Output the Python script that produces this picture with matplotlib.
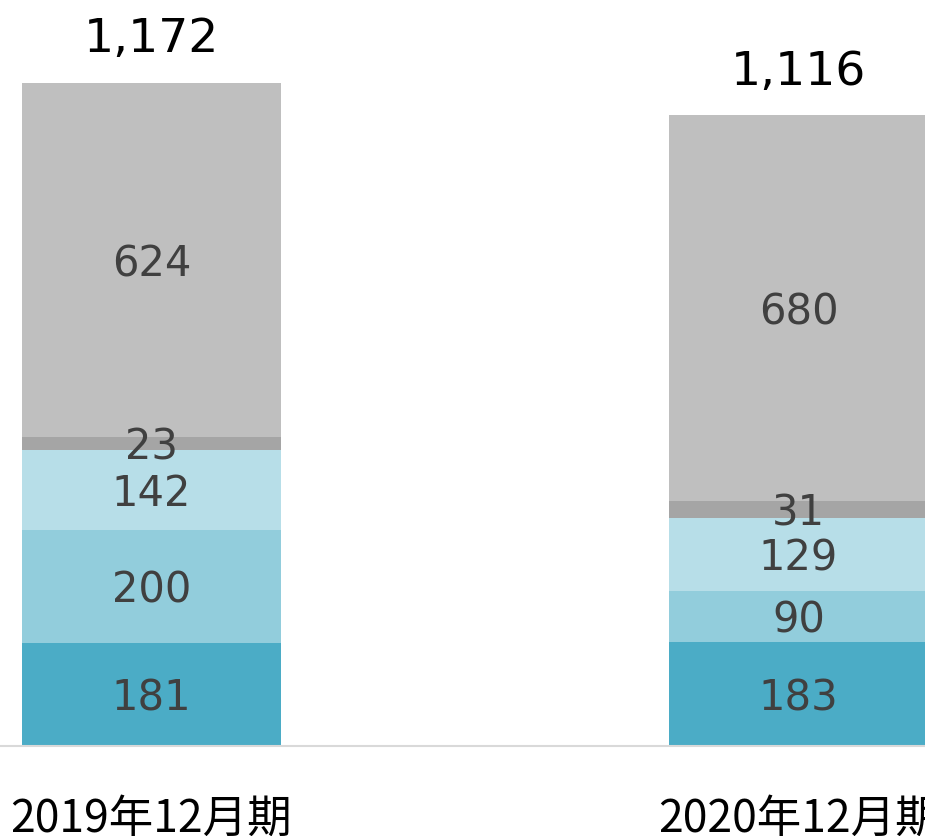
import matplotlib
matplotlib.use("Agg")
import matplotlib.pyplot as plt
import numpy as np

plt.rcParams["font.family"] = ["DejaVu Sans"]

categories = ["2019年12月期", "2020年12月期"]
seg1 = [181, 183]
seg2 = [200, 90]
seg3 = [142, 129]
seg4 = [23, 31]
seg5 = [624, 680]
totals = [1172, 1116]

series = [seg1, seg2, seg3, seg4, seg5]
colors = ["#4BACC6", "#92CDDC", "#B7DEE8", "#A5A5A5", "#BFBFBF"]

fig = plt.figure(figsize=(9.25, 8.36), dpi=100)
ax = fig.add_axes([0, 90 / 836, 1, 746 / 836])

x = np.arange(len(categories))
bottom = np.zeros(len(categories))
for vals, col in zip(series, colors):
    vals = np.array(vals, dtype=float)
    ax.bar(x, vals, width=0.4, bottom=bottom, color=col, linewidth=0, zorder=2)
    for xi, b, v in zip(x, bottom, vals):
        ax.annotate(f"{int(v):,}", (xi, b + v / 2), xytext=(0, -3), textcoords="offset points",
                    ha="center", va="center", fontsize=30, color="#404040",
                    fontfamily=["DejaVu Sans"], zorder=3)
    bottom += vals

for xi, top, t in zip(x, bottom, totals):
    ax.annotate(f"{t:,}", (xi, top), xytext=(0, 15), textcoords="offset points",
                ha="center", va="bottom", fontsize=34, color="black", fontfamily=["DejaVu Sans"])

ax.set_xlim(-0.234, 1.1955)
ax.set_ylim(0, 1316.6)
ax.set_yticks([])
ax.set_xticks(x)
ax.set_xticklabels(categories, fontfamily=["Noto Sans CJK JP", "DejaVu Sans"], fontsize=32, color="black")
ax.tick_params(axis="x", length=0, pad=36)
for s in ["top", "right", "left"]:
    ax.spines[s].set_visible(False)
ax.spines["bottom"].set_color("#D9D9D9")
ax.spines["bottom"].set_linewidth(1.5)

fig.savefig("out.png", dpi=100)
